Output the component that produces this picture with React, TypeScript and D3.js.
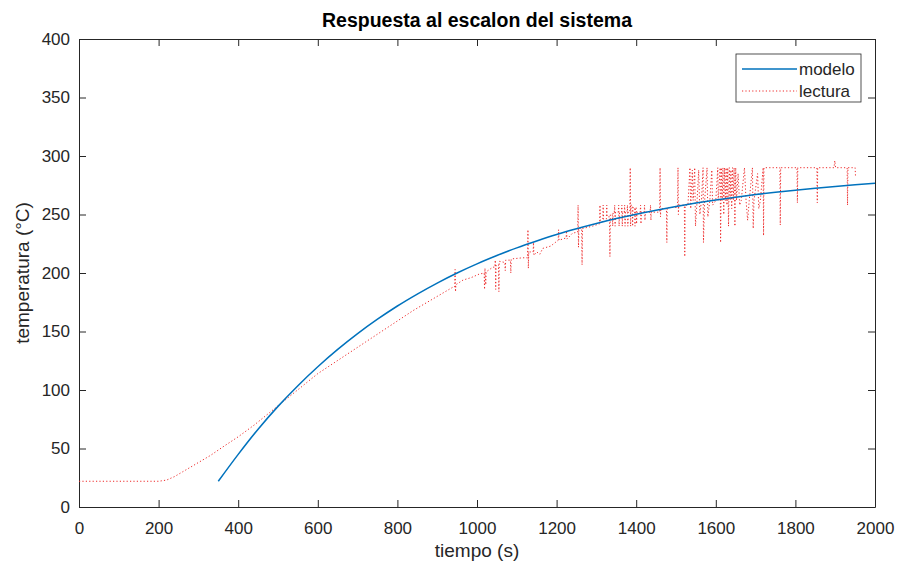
import { useEffect, useRef } from 'react'
import * as d3 from 'd3'

// modelo: first order response, sampled every 50 s from 350 s
const modeloT = [350, 400, 450, 500, 550, 600, 650, 700, 750, 800, 850, 900, 950, 1000, 1050, 1100, 1150, 1200,
  1250, 1300, 1350, 1400, 1450, 1500, 1550, 1600, 1650, 1700, 1750, 1800, 1850, 1900, 1950, 2000]
const modeloV = [22, 45, 66.5, 86, 103.7, 119.9, 134.7, 148.2, 160.5, 171.8, 182, 191.4, 200, 207.8, 214.9, 221.5,
  227.4, 232.9, 237.8, 242.3, 246.5, 250.3, 253.7, 256.9, 259.8, 262.4, 264.8, 267, 269, 270.8, 272.5, 274,
  275.4, 276.7]

// lectura: sensor readings (quantized, with spikes)
const lecturaT = [0, 50, 100, 150, 200, 220, 240, 260, 280, 300, 330, 360, 400, 440, 480, 520, 560, 600, 640, 680,
  720, 760, 800, 840, 880, 910, 930, 940, 944, 945, 946, 947, 965, 985, 1005, 1018, 1019, 1020, 1022, 1023,
  1040, 1045, 1046, 1047, 1048, 1054, 1055, 1056, 1070, 1071, 1072, 1084, 1085, 1086, 1115, 1127, 1128, 1129,
  1130, 1141, 1142, 1143, 1150, 1158, 1165, 1185, 1204, 1205, 1206, 1224, 1225, 1226, 1240, 1253, 1254, 1255,
  1256, 1263, 1264, 1265, 1290, 1308, 1309, 1310, 1316, 1317, 1318, 1325, 1326, 1327, 1333, 1334, 1335, 1340,
  1341, 1342, 1345, 1346, 1347, 1348, 1355, 1356, 1357, 1358, 1363, 1364, 1365, 1366, 1370, 1371, 1372, 1373,
  1377, 1378, 1379, 1380, 1384, 1385, 1386, 1387, 1390, 1391, 1392, 1396, 1397, 1398, 1400, 1401, 1402, 1410,
  1411, 1412, 1413, 1420, 1421, 1422, 1423, 1435, 1436, 1437, 1438,
  1459, 1460, 1461, 1462, 1476, 1477, 1478, 1504, 1505, 1506, 1507, 1521, 1522, 1523, 1530, 1535, 1537, 1541,
  1543, 1547, 1549, 1553, 1557, 1560, 1564, 1568, 1569, 1572, 1578, 1580, 1585, 1590, 1592, 1600, 1605, 1606,
  1611, 1612, 1614, 1616, 1618, 1620, 1622, 1624, 1626, 1628, 1630, 1632, 1634, 1636, 1638, 1640, 1642, 1644,
  1646, 1648, 1650, 1652, 1656, 1660, 1664, 1672, 1676, 1680, 1684, 1692, 1694, 1696, 1705, 1708, 1712, 1719,
  1720, 1721, 1761, 1762, 1763, 1804, 1805, 1806, 1854, 1855, 1856, 1897, 1899, 1901, 1930, 1931, 1932, 1950,
  1951]
const lecturaV = [22, 22, 22, 22, 22, 23, 26, 30, 34, 38, 44, 51, 60, 70, 81, 92, 103, 114, 123, 132,
  141, 150, 159, 168, 176, 182, 186, 188, 188, 203, 184, 190, 194, 196, 199, 200, 186, 204, 190, 201,
  205, 205, 211, 186, 207, 207, 184, 210, 209, 202, 211, 211, 200, 212, 213, 213, 237, 204,
  218, 218, 226, 215, 218, 216, 221, 223, 228, 237, 228, 230, 236, 229, 234, 235, 258, 222,
  238, 238, 207, 238, 240, 242, 258, 244, 244, 258, 246, 246, 258, 248, 248, 214, 250, 250,
  240, 252, 252, 258, 240, 252, 252, 258, 240, 252, 252, 258, 240, 252, 252, 258, 240, 252,
  252, 258, 240, 252, 252, 290, 240, 258, 258, 240, 256, 256, 240, 256, 256, 242, 252, 252,
  258, 242, 252, 252, 258, 245, 252, 252, 258, 245, 252,
  252, 290, 248, 255, 255, 226, 256, 256, 290, 250, 258, 258, 214, 258, 258, 290, 255, 288,
  262, 290, 240, 262, 288, 250, 262, 290, 226, 262, 290, 248, 262, 288, 258, 262, 290, 262,
  290, 226, 290, 262, 290, 250, 290, 262, 290, 258, 290, 240, 290, 262, 288, 255, 290, 262,
  290, 240, 290, 262, 285, 258, 262, 290, 262, 245, 262, 290, 238, 262, 285, 255, 262, 290,
  232, 290, 290, 241, 290, 290, 260, 290, 290, 260, 290, 290, 296, 290, 290, 258, 290, 290,
  283]

const xTicks = [0, 200, 400, 600, 800, 1000, 1200, 1400, 1600, 1800, 2000]
const yTicks = [0, 50, 100, 150, 200, 250, 300, 350, 400]
const legendLabels = ['modelo', 'lectura']

export default function App() {
  const svgRef = useRef<SVGSVGElement>(null)

  useEffect(() => {
    const W = 899
    const H = 564
    const margin = { top: 39, right: 24, bottom: 57, left: 79 }
    const innerW = W - margin.left - margin.right
    const innerH = H - margin.top - margin.bottom
    const ink = '#262626'
    const red = '#ee2a2a'
    const blue = '#0072BD'
    const font = '"Liberation Sans", Arial, sans-serif'

    const x = d3.scaleLinear().domain([0, 2000]).range([0, innerW])
    const y = d3.scaleLinear().domain([0, 400]).range([innerH, 0])

    const svg = d3.select(svgRef.current)
    svg.selectAll('*').remove()
    svg.attr('width', W).attr('height', H)
    svg.append('rect').attr('width', W).attr('height', H).attr('fill', '#fff')

    const g = svg.append('g').attr('transform', `translate(${margin.left},${margin.top})`)

    const styleAxis = (ax: any) => {
      ax.select('.domain').attr('stroke', ink)
      ax.selectAll('.tick line').attr('stroke', ink)
      ax.selectAll('text').attr('fill', ink).attr('font-size', 17).attr('font-family', font)
    }
    const fmt = d3.format('d')

    // Axes, inside ticks, box on
    g.append('g')
      .attr('transform', `translate(0,${innerH})`)
      .call(d3.axisBottom(x).tickValues(xTicks).tickFormat(fmt).tickSizeInner(-7).tickSizeOuter(0).tickPadding(15))
      .call(styleAxis)
    g.append('g')
      .call(d3.axisTop(x).tickValues(xTicks).tickSizeInner(-7).tickSizeOuter(0).tickFormat(() => ''))
      .call(styleAxis)
    g.append('g')
      .call(d3.axisLeft(y).tickValues(yTicks).tickFormat(fmt).tickSizeInner(-7).tickSizeOuter(0).tickPadding(9))
      .call(styleAxis)
    g.append('g')
      .attr('transform', `translate(${innerW},0)`)
      .call(d3.axisRight(y).tickValues(yTicks).tickSizeInner(-7).tickSizeOuter(0).tickFormat(() => ''))
      .call(styleAxis)

    const lectura = lecturaT.map((t, i) => [t, lecturaV[i]] as [number, number])
    const modelo = modeloT.map((t, i) => [t, modeloV[i]] as [number, number])

    // lectura (dotted red)
    g.append('path')
      .datum(lectura)
      .attr('fill', 'none')
      .attr('stroke', red)
      .attr('stroke-width', 1)
      .attr('stroke-dasharray', '1.2,2.2')
      .attr('d', d3.line().x((d) => x(d[0])).y((d) => y(d[1])))

    // modelo (solid blue)
    g.append('path')
      .datum(modelo)
      .attr('fill', 'none')
      .attr('stroke', blue)
      .attr('stroke-width', 1.5)
      .attr('d', d3.line().x((d) => x(d[0])).y((d) => y(d[1])).curve(d3.curveMonotoneX))

    // Title and axis labels
    svg.append('text')
      .attr('x', margin.left + innerW / 2).attr('y', 27)
      .attr('text-anchor', 'middle')
      .attr('font-family', font).attr('font-size', 19.5).attr('font-weight', 'bold')
      .attr('fill', '#000')
      .text('Respuesta al escalon del sistema')
    svg.append('text')
      .attr('x', margin.left + innerW / 2).attr('y', 557)
      .attr('text-anchor', 'middle')
      .attr('font-family', font).attr('font-size', 19)
      .attr('fill', ink)
      .text('tiempo (s)')
    svg.append('text')
      .attr('transform', `translate(29,${margin.top + innerH / 2}) rotate(-90)`)
      .attr('text-anchor', 'middle')
      .attr('font-family', font).attr('font-size', 19)
      .attr('fill', ink)
      .text('temperatura (°C)')

    // Legend
    const lg = svg.append('g').attr('transform', 'translate(736,54)')
    lg.append('rect')
      .attr('width', 125).attr('height', 48)
      .attr('fill', '#fff').attr('stroke', ink).attr('stroke-width', 0.8)
    legendLabels.forEach((label, i) => {
      const cy = 15 + i * 22
      lg.append('line')
        .attr('x1', 6).attr('x2', 61).attr('y1', cy).attr('y2', cy)
        .attr('stroke', i === 0 ? blue : red)
        .attr('stroke-width', i === 0 ? 1.5 : 1)
        .attr('stroke-dasharray', i === 0 ? null : '1.2,2.2')
      lg.append('text')
        .attr('x', 63).attr('y', cy + 6)
        .attr('font-family', font).attr('font-size', 17)
        .attr('fill', ink)
        .text(label)
    })
  }, [])

  return (
    <div style={{ position: 'absolute', left: 0, top: 0 }}>
      <svg ref={svgRef} style={{ display: 'block' }} />
    </div>
  )
}
